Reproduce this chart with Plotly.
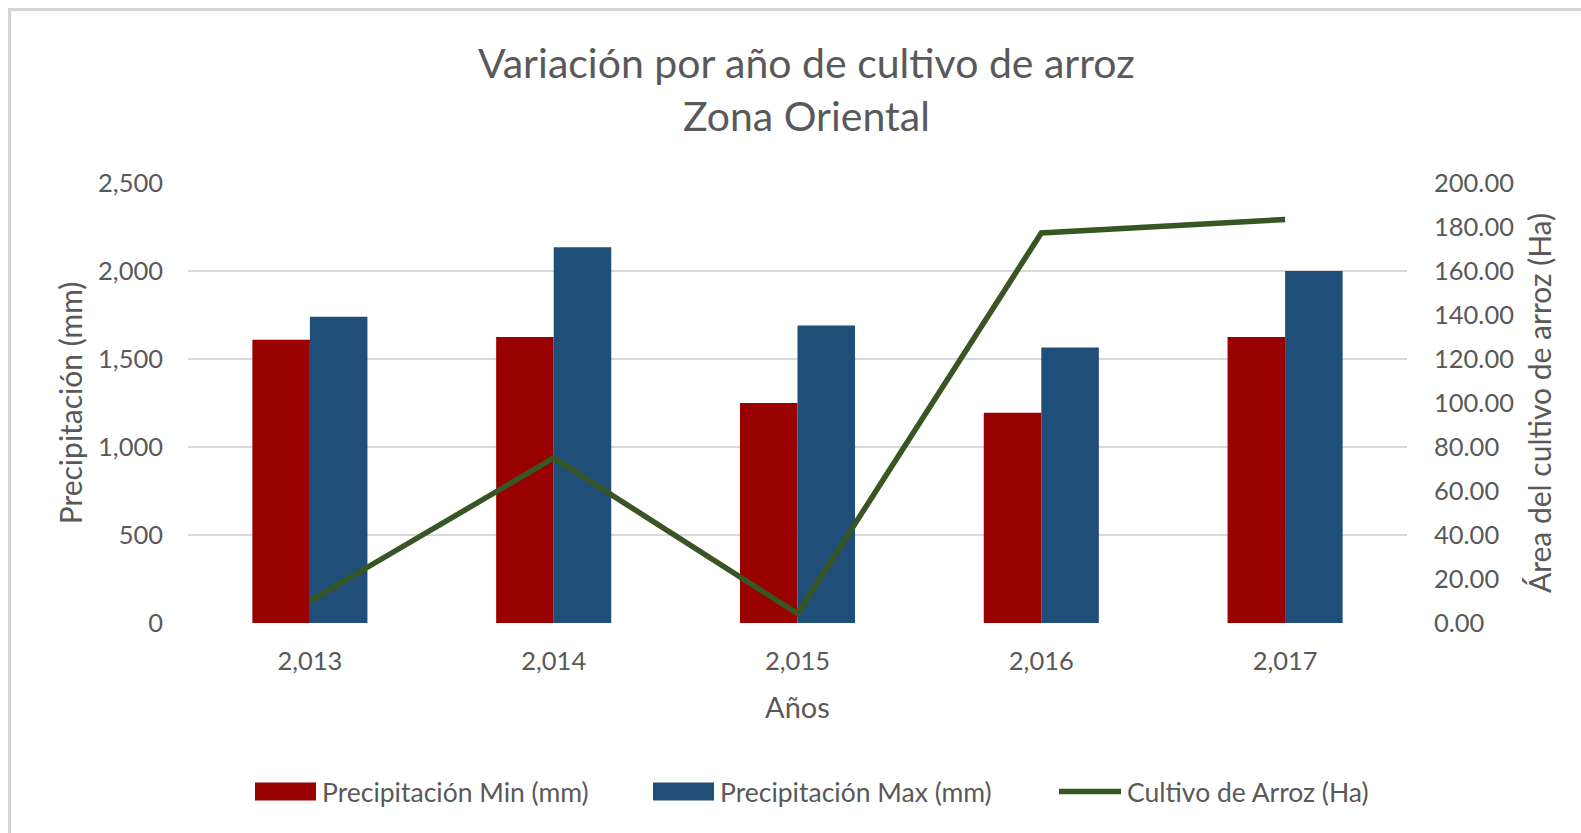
import plotly.graph_objects as go

# Data
years = [2013, 2014, 2015, 2016, 2017]
precip_min = [1610, 1625, 1250, 1195, 1625]
precip_max = [1740, 2135, 1690, 1565, 2000]
cultivo_arroz = [10.0, 75.0, 4.3, 177.3, 183.4]

series_names = ["Precipitación Min (mm)", "Precipitación Max (mm)", "Cultivo de Arroz (Ha)"]
title_lines = ["Variación por año de cultivo de arroz", "Zona Oriental"]

RED = "#990000"
BLUE = "#1F4E79"
GREEN = "#375623"
TEXT = "#595959"
GRID = "#D9D9D9"
FONT = "Lato"

# Page geometry (pixels)
W, H = 1581, 833
L, R, T, B = 188, 1407, 183, 623


def px_x(x):
    return (x - L) / (R - L)


def px_y(y):
    return (B - y) / (B - T)


fig = go.Figure()
fig.add_trace(go.Bar(x=years, y=precip_min, name=series_names[0],
                     marker=dict(color=RED, line=dict(width=0))))
fig.add_trace(go.Bar(x=years, y=precip_max, name=series_names[1],
                     marker=dict(color=BLUE, line=dict(width=0))))
fig.add_trace(go.Scatter(x=years, y=cultivo_arroz, name=series_names[2],
                         mode="lines", yaxis="y2",
                         line=dict(color=GREEN, width=5.5)))

tick_font = dict(family=FONT, size=25.5, color=TEXT)
axis_title_font = dict(family=FONT, size=30, color=TEXT)

fig.update_layout(
    width=W, height=H,
    margin=dict(l=L, r=W - R, t=T, b=H - B, pad=0),
    paper_bgcolor="white", plot_bgcolor="white",
    barmode="group", bargap=0.528, bargroupgap=0,
    showlegend=False,
    font=dict(family=FONT, color=TEXT),
    xaxis=dict(range=[2012.5, 2017.5], tickvals=years, tickformat=",d",
               showgrid=False, zeroline=False, showline=False,
               ticks="", tickfont=tick_font, ticklabelstandoff=20,
               title=dict(text="Años", font=dict(family=FONT, size=29, color=TEXT), standoff=24)),
    yaxis=dict(range=[0, 2500], dtick=500, tickformat=",",
               showgrid=True, gridcolor=GRID, gridwidth=2,
               zeroline=False, showline=False, ticks="",
               tickfont=tick_font, ticklabelstandoff=24,
               title=dict(text="Precipitación (mm)", font=axis_title_font, standoff=6)),
    yaxis2=dict(range=[0, 200], dtick=20, tickformat=".2f",
                overlaying="y", side="right",
                showgrid=False, zeroline=False, showline=False, ticks="",
                tickfont=tick_font, ticklabelstandoff=26,
                title=dict(text="Área del cultivo de arroz (Ha)", font=axis_title_font, standoff=16)),
)

# Chart title (two lines)
for text, yc in zip(title_lines, [62, 116]):
    fig.add_annotation(text=text, xref="paper", yref="paper",
                       x=px_x(806), y=px_y(yc), xanchor="center", yanchor="middle",
                       showarrow=False, font=dict(family=FONT, size=41, color=TEXT))

# Chart frame (top and left edges)
shapes = [
    dict(type="line", xref="paper", yref="paper",
         x0=px_x(9.5), x1=px_x(W + 5), y0=px_y(9.5), y1=px_y(9.5),
         line=dict(color="#D4D4D4", width=3)),
    dict(type="line", xref="paper", yref="paper",
         x0=px_x(9.5), x1=px_x(9.5), y0=px_y(8), y1=px_y(H + 5),
         line=dict(color="#D4D4D4", width=3)),
]

# Legend row
leg_y = 791.5
swatches = [(255, 316, RED, "rect"), (653, 714, BLUE, "rect"), (1059, 1121, GREEN, "line")]
for (x0, x1, col, kind), name in zip(swatches, series_names):
    if kind == "rect":
        shapes.append(dict(type="rect", xref="paper", yref="paper",
                           x0=px_x(x0), x1=px_x(x1), y0=px_y(leg_y - 9), y1=px_y(leg_y + 9),
                           fillcolor=col, line=dict(width=0)))
    else:
        shapes.append(dict(type="line", xref="paper", yref="paper",
                           x0=px_x(x0), x1=px_x(x1), y0=px_y(leg_y), y1=px_y(leg_y),
                           line=dict(color=col, width=5.5)))
    fig.add_annotation(text=name, xref="paper", yref="paper",
                       x=px_x(x1 + 4), y=px_y(leg_y), xanchor="left", yanchor="middle",
                       showarrow=False, font=dict(family=FONT, size=26.5, color=TEXT))

fig.update_layout(shapes=shapes)

fig.write_html("out.html")
